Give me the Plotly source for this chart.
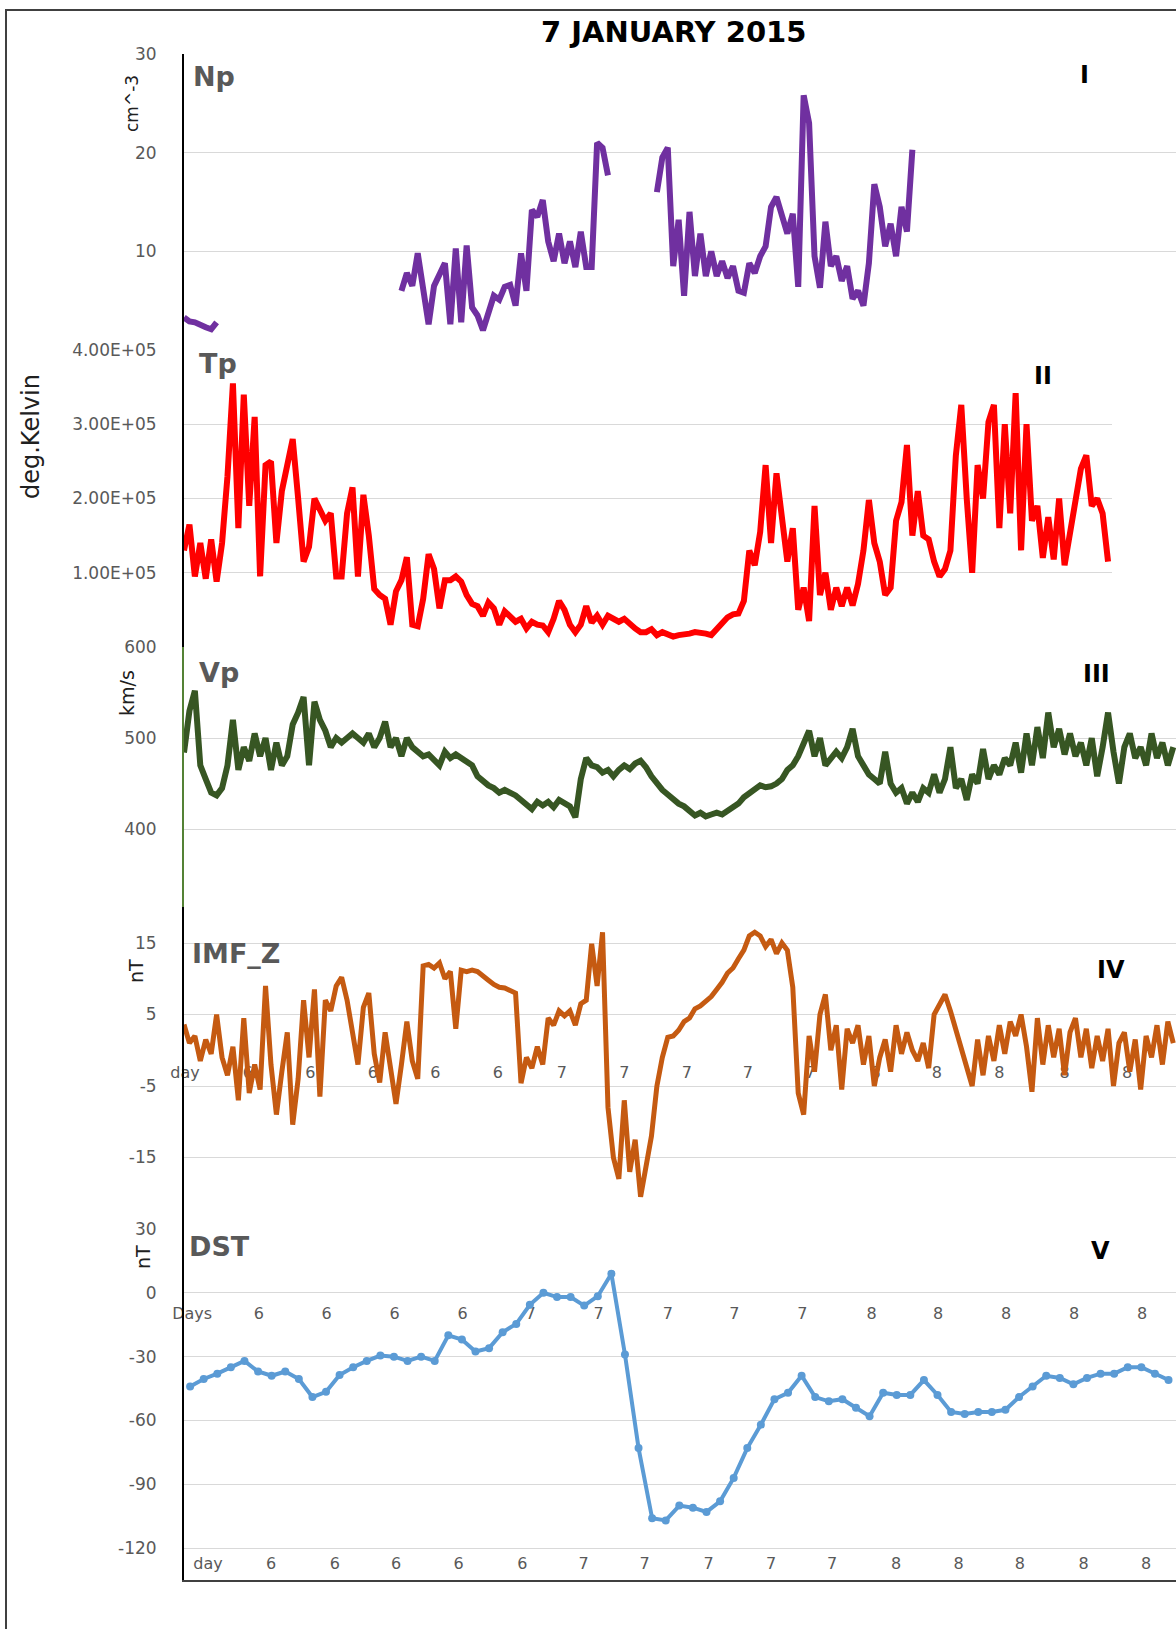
import plotly.graph_objects as go

W, H = 1176, 1629

# ---------------- data ----------------
# regular time grid (hours since 6 Jan 00 UT), 0.4 h step
STEP = 0.4
hours = [round(i * STEP, 1) for i in range(183)]
dst_hours = [round(0.45 + k, 2) for k in range(73)]

np_vals = ([3.3, 2.9, 2.8, 2.5, 2.3, 2.1, 2.8] + [None] * 33 +
           [6.0, 7.8, 6.5, 9.8, 6.2, 2.6, 6.5, 7.6, 8.8, 2.6, 10.3, 2.8, 10.6, 4.3, 3.5, 2.0,
            4.0, 5.5, 5.1, 6.4, 6.6, 4.5, 9.8, 6.0, 14.2, 13.5, 15.2, 11.0, 9.0, 11.8, 8.8,
            11.0, 8.4, 12.0, 8.4, 8.4, 21.0, 20.5, 17.7] + [None] * 8 +
           [16.0, 19.5, 20.5] +
           [8.5, 13.2, 5.5, 14.0, 7.5, 11.8, 7.5, 10.0, 7.5, 9.0, 7.3, 8.5, 6.0, 5.8, 8.8,
            7.8, 9.5, 10.5, 14.5, 15.5, 13.5, 11.8, 13.8, 6.4, 25.8, 23.0, 9.5, 6.3, 13.0,
            8.5, 9.5, 7.0, 8.5, 5.2, 6.0, 4.5, 8.8, 16.8, 14.5, 10.5, 12.8, 9.5, 14.5, 12.0,
            20.3] + [None] * 48)

tp_kK = ([130, 165, 95, 140, 92, 145, 88, 140, 230, 355,
          160, 340, 190, 310, 95, 245, 250, 140, 210, 245,
          280, 200, 115, 135, 200, 185, 170, 180, 95, 95,
          180, 215, 95, 205, 150, 78, 70, 65, 30, 75,
          90, 121, 30, 28, 65, 125, 105, 52, 90, 90,
          95, 88, 70, 58, 55, 42, 60, 52, 30, 48,
          40, 34, 38, 25, 34, 30, 29, 20, 38, 62,
          50, 30, 20, 30, 55, 33, 42, 30, 42, 38,
          34, 38, 30, 25, 20, 20, 24, 16, 20, 16,
          14, 16, 16, 18, 20, 20, 18, 16, 25, 34,
          40, 44, 45, 62, 130, 110, 155, 245, 140, 234,
          180, 115, 160, 50, 80, 35, 190, 70, 100, 50,
          80, 55, 80, 56, 85, 130, 198, 140, 115, 70,
          80, 170, 195, 272, 150, 210, 150, 145, 115, 95,
          105, 130, 258, 326, 200, 100, 245, 200, 303, 326,
          160, 300, 180, 342, 130, 300, 170, 190, 120, 175,
          118, 200, 110, 155, 205, 240, 258, 190, 200, 180,
          115] + [None] * 12)
tp_vals = [None if v is None else v * 1000 for v in tp_kK]

vp_vals = [484, 530, 552, 470, 455, 440, 437, 445, 470, 520,
           465, 490, 475, 505, 480, 500, 465, 495, 470, 480,
           515, 528, 545, 470, 540, 520, 508, 490, 500, 495,
           500, 505, 500, 495, 505, 490, 500, 518, 490, 500,
           480, 500, 490, 485, 480, 482, 475, 470, 485, 478,
           482, 478, 475, 470, 458, 452, 448, 445, 440, 443,
           440, 437, 432, 428, 422, 430, 426, 430, 424, 432,
           428, 425, 413, 455, 478, 470, 468, 462, 465, 458,
           465, 470, 466, 472, 475, 468, 458, 450, 443, 438,
           432, 428, 425, 420, 415, 418, 414, 416, 418, 416,
           420, 425, 428, 435, 440, 443, 448, 446, 447, 450,
           455, 465, 470, 480, 495, 508, 480, 500, 470, 478,
           485, 478, 490, 510, 480, 470, 460, 455, 450, 485,
           450, 440, 445, 428, 440, 430, 445, 440, 460, 440,
           455, 490, 445, 455, 432, 460, 450, 488, 455, 470,
           460, 478, 470, 495, 462, 505, 470, 512, 478, 528,
           490, 510, 482, 505, 480, 495, 470, 500, 458, 490,
           528, 485, 450, 490, 505, 478, 490, 470, 505, 478,
           495, 470, 490]

imf_vals = [3.6, 1.0, 2.0, -1.5, 1.5, -0.5, 5.0, -1.0, -3.5, 0.5,
            -7.0, 4.5, -6.0, -2.0, -5.5, 9.0, -2.0, -9.0, -3.0, 2.5,
            -10.4, -4.0, 7.0, -1.0, 8.5, -6.5, 7.0, 5.5, 9.0, 10.2,
            7.0, 2.0, -2.0, 6.0, 8.0, -0.5, -4.5, 2.5, -3.0, -7.5,
            -2.0, 4.0, -1.5, -4.0, 11.8, 12.0, 11.5, 12.2, 10.0, 11.0,
            3.0, 11.2, 11.0, 11.2, 11.0, 10.3, 9.8, 9.2, 8.8, 8.7,
            8.4, 8.0, -4.6, -1.0, -2.5, 0.5, -2.0, 4.5, 3.5, 5.5,
            4.8, 5.5, 3.5, 6.5, 7.0, 14.9, 9.0, 16.5, -8.0, -15.0,
            -18.0, -7.0, -17.0, -12.5, -20.5, -16.0, -12.0, -5.0, -1.0, 1.8,
            2.0, 2.8, 4.0, 4.5, 5.8, 6.2, 6.8, 7.5, 8.5, 9.5,
            10.8, 11.5, 12.8, 14.0, 16.0, 16.5, 16.0, 14.5, 15.5, 13.5,
            15.0, 14.0, 8.8, -6.0, -9.0, 2.0, -3.0, 5.0, 7.8, 0.0,
            3.5, -5.5, 3.0, 1.0, 3.5, -2.0, 2.0, -5.0, -1.0, 1.5,
            -3.0, 3.5, -0.5, 2.5, 0.0, -1.5, 1.0, -2.5, 5.0, 6.5,
            7.8, 5.5, 3.0, 0.5, -2.0, -5.0, 1.5, -3.5, 2.0, -1.5,
            3.5, -0.5, 4.0, 2.0, 5.0, 0.5, -5.8, 4.5, -2.0, 3.5,
            -1.0, 3.0, -3.5, 2.5, 4.5, -1.0, 3.0, -2.5, 2.0, -1.5,
            3.0, -5.0, 1.0, 2.5, -3.0, 1.5, -5.5, 2.0, -1.0, 3.5,
            -2.0, 4.0, 1.0]

dst_vals = [-44, -40.5, -38, -35, -32, -37, -39, -37, -40.5, -49,
            -46.5, -38.6, -35, -32, -29.5, -30, -32, -30, -32, -20,
            -22, -27.6, -26, -18.5, -14.6, -5.6, 0, -2, -2, -6,
            -1.6, 9, -29, -73, -106, -107, -100, -101, -103, -98,
            -87, -73, -62, -50, -47, -39, -49, -51, -50, -54,
            -58, -47, -48, -48, -41, -48, -56, -57, -56, -56,
            -55, -49, -44, -39, -40, -43, -40, -38, -38, -35,
            -35, -38, -41]

# tick labels
np_tickvals, np_ticktext = [0, 10, 20, 30], ["", "10", "20", "30"]
tp_tickvals = [100000, 200000, 300000, 400000]
tp_ticktext = ["1.00E+05", "2.00E+05", "3.00E+05", "4.00E+05"]
vp_tickvals, vp_ticktext = [400, 500, 600], ["400", "500", "600"]
imf_tickvals, imf_ticktext = [-15, -5, 5, 15], ["-15", "-5", "5", "15"]
dst_tickvals = [-120, -90, -60, -30, 0, 30]
dst_ticktext = ["-120", "-90", "-60", "-30", "0", "30"]

imf_row_pos = [0.07, 4.7, 9.3, 13.9, 18.5, 23.1, 27.8, 32.4, 37.0, 41.5, 46.1, 50.9, 55.4, 60.0, 64.8, 69.4]
imf_row_text = ["day", "6", "6", "6", "6", "6", "7", "7", "7", "7", "7", "8", "8", "8", "8", "8"]
dst_row_pos = [0.6, 5.5, 10.5, 15.5, 20.5, 25.5, 30.5, 35.6, 40.5, 45.5, 50.6, 55.5, 60.5, 65.5, 70.5]
dst_row_text = ["Days", "6", "6", "6", "6", "7", "7", "7", "7", "7", "8", "8", "8", "8", "8"]
bot_row_pos = [1.77, 6.4, 11.1, 15.6, 20.2, 24.9, 29.4, 33.9, 38.6, 43.2, 47.7, 52.4, 57.0, 61.5, 66.2, 70.8]
bot_row_text = ["day", "6", "6", "6", "6", "6", "7", "7", "7", "7", "7", "8", "8", "8", "8", "8"]

# ---------------- layout helpers ----------------
FONT = "DejaVu Sans"
GREY = "#595959"


def py(p):
    return 1 - p / H


def px(p):
    return p / W


X_RANGE = [0, 73]
XD = [px(184), 1.0]
XD_TP = [px(184), px(1112)]
TP_RANGE = [0, (1112 - 184) / ((W - 184) / X_RANGE[1])]

LW = 6
fig = go.Figure()
fig.add_trace(go.Scatter(x=hours, y=np_vals, mode="lines", xaxis="x", yaxis="y",
                         line=dict(color="#7030A0", width=LW), showlegend=False))
fig.add_trace(go.Scatter(x=hours, y=tp_vals, mode="lines", xaxis="x2", yaxis="y2",
                         line=dict(color="#FF0000", width=LW), showlegend=False))
fig.add_trace(go.Scatter(x=hours, y=vp_vals, mode="lines", xaxis="x3", yaxis="y3",
                         line=dict(color="#375623", width=LW), showlegend=False))
fig.add_trace(go.Scatter(x=hours, y=imf_vals, mode="lines", xaxis="x4", yaxis="y4",
                         line=dict(color="#C55A11", width=5), showlegend=False))
fig.add_trace(go.Scatter(x=dst_hours, y=dst_vals, mode="lines+markers", xaxis="x5", yaxis="y5",
                         line=dict(color="#5B9BD5", width=4),
                         marker=dict(color="#5B9BD5", size=8), showlegend=False))
# invisible carriers so the label-row axes get drawn
for xa in ("x6", "x7", "x8"):
    fig.add_trace(go.Scatter(x=[None], y=[None], xaxis=xa, yaxis="y", mode="markers",
                             showlegend=False, hoverinfo="skip"))

tickfont = dict(family=FONT, size=17, color=GREY)


def yax(domain, rng, tv, tt, anchor, linecolor="black"):
    return dict(domain=domain, range=rng, anchor=anchor, tickvals=tv, ticktext=tt,
                showgrid=True, gridcolor="#d9d9d9", gridwidth=1, zeroline=False,
                showline=True, linecolor=linecolor, linewidth=2, ticks="",
                ticklabelstandoff=22, tickfont=tickfont, fixedrange=True, automargin=False)


def xhidden(domain, rng, anchor):
    return dict(domain=domain, range=rng, anchor=anchor, showgrid=False, zeroline=False,
                showline=False, showticklabels=False, ticks="", automargin=False)


def xrow(pos_px, tv, tt):
    return dict(overlaying="x", anchor="free", position=py(pos_px), range=X_RANGE,
                tickvals=tv, ticktext=tt, showgrid=False, zeroline=False, showline=False,
                ticks="", tickfont=dict(family=FONT, size=16, color=GREY), side="bottom",
                automargin=False)


IMF_TOP = 943 - 5 * (1229 - 943) / 40.0  # panel extends to +20 nT above the 15 grid line

layout = dict(
    width=W, height=H, autosize=False,
    margin=dict(l=0, r=0, t=0, b=0, autoexpand=False),
    paper_bgcolor="white", plot_bgcolor="rgba(0,0,0,0)",
    font=dict(family=FONT),
    xaxis=xhidden(XD, X_RANGE, "y"),
    xaxis2=xhidden(XD_TP, TP_RANGE, "y2"),
    xaxis3=xhidden(XD, X_RANGE, "y3"),
    xaxis4=xhidden(XD, X_RANGE, "y4"),
    xaxis5=dict(domain=XD, range=X_RANGE, anchor="y5", showgrid=False, zeroline=False,
                showline=True, linecolor="#404040", linewidth=2, showticklabels=False, ticks="",
                automargin=False),
    xaxis6=xrow(1061, imf_row_pos, imf_row_text),
    xaxis7=xrow(1302, dst_row_pos, dst_row_text),
    xaxis8=xrow(1552, bot_row_pos, bot_row_text),
    yaxis=yax([py(350), py(54)], [0, 30], np_tickvals, np_ticktext, "x"),
    yaxis2=yax([py(647), py(350)], [0, 400000], tp_tickvals, tp_ticktext, "x2"),
    yaxis3=yax([py(910), py(647)], [300 + 100 * (943 - 910) / 296.0, 600], vp_tickvals, vp_ticktext,
               "x3", "#548235"),
    yaxis4=yax([py(1229), py(IMF_TOP)], [-25, 20], imf_tickvals, imf_ticktext, "x4"),
    yaxis5=yax([py(1580), py(1229)], [-135, 30], dst_tickvals, dst_ticktext, "x5"),
)
fig.update_layout(**layout)

ann = []
ann.append(dict(text="<b>7 JANUARY 2015</b>", x=px(673), y=py(32), xref="paper", yref="paper",
                showarrow=False, xanchor="center", yanchor="middle",
                font=dict(family=FONT, size=29, color="black")))
panel_labels = [("Np", 191, 77), ("Tp", 197, 363), ("Vp", 197, 673), ("IMF_Z", 190, 954), ("DST", 187, 1246)]
for t, x0, y0 in panel_labels:
    ann.append(dict(text="<b>%s</b>" % t, x=px(x0), y=py(y0), xref="paper", yref="paper",
                    showarrow=False, xanchor="left", yanchor="middle",
                    font=dict(family=FONT, size=27, color=GREY)))
romans = [("I", 1084, 75), ("II", 1043, 376), ("III", 1096, 674), ("IV", 1111, 970), ("V", 1100, 1251)]
for t, x0, y0 in romans:
    ann.append(dict(text="<b>%s</b>" % t, x=px(x0), y=py(y0), xref="paper", yref="paper",
                    showarrow=False, xanchor="center", yanchor="middle",
                    font=dict(family=FONT, size=24, color="black")))
ytitles = [("cm^-3", 132, 104, 17), ("deg.Kelvin", 31, 437, 24), ("km/s", 127, 693, 19),
           ("nT", 136, 971, 19), ("nT", 143, 1257, 19)]
for t, x0, y0, s in ytitles:
    ann.append(dict(text=t, x=px(x0), y=py(y0), xref="paper", yref="paper", textangle=-90,
                    showarrow=False, xanchor="center", yanchor="middle",
                    font=dict(family=FONT, size=s, color="#202020")))
fig.update_layout(annotations=ann)

fig.update_layout(shapes=[dict(type="rect", xref="paper", yref="paper",
                               x0=px(6), x1=px(1190), y0=py(1660), y1=py(10),
                               line=dict(color="#404040", width=2), fillcolor="rgba(0,0,0,0)",
                               layer="below")])

fig.write_html("out.html", config={"displayModeBar": False, "responsive": False},
               post_script="document.body.style.margin='0';document.body.style.overflow='hidden';")
